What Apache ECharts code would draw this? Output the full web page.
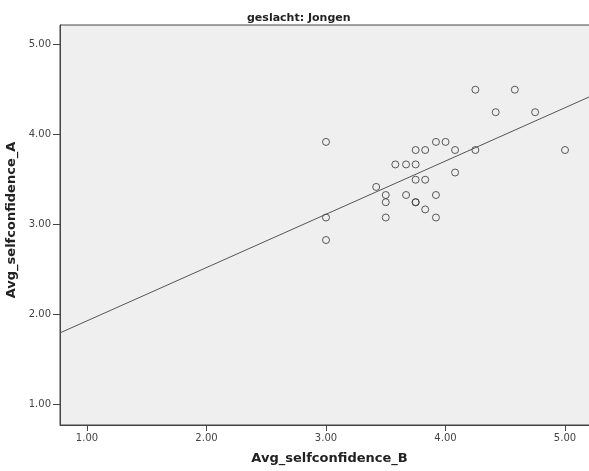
<!DOCTYPE html>
<html>
<head>
<meta charset="utf-8">
<script src="https://cdn.jsdelivr.net/npm/echarts@6/dist/echarts.min.js"></script>
<style>
html,body{margin:0;padding:0;background:#fff;}
#chart{width:589px;height:471px;}
</style>
</head>
<body>
<div id="chart"></div>
<script>
var chartTitle = 'geslacht: Jongen';
var xName = 'Avg_selfconfidence_B';
var yName = 'Avg_selfconfidence_A';
var xB = [4.25,4.58,4.42,4.75,3.00,3.92,4.00,3.75,3.83,4.08,4.25,5.00,3.58,3.67,3.75,3.75,3.83,4.08,3.42,3.50,3.67,3.92,3.50,3.75,3.75,3.83,3.00,3.50,3.92,3.00];
var yA = [4.50,4.50,4.25,4.25,3.92,3.92,3.92,3.83,3.83,3.83,3.83,3.83,3.67,3.67,3.67,3.50,3.50,3.58,3.42,3.33,3.33,3.33,3.25,3.25,3.25,3.17,3.08,3.08,3.08,2.83];
var xTicks = [1,2,3,4,5];
var yTicks = [1,2,3,4,5];
var fitIntercept = 1.34;
var fitSlope = 0.592;

var xMin = 0.774, xMax = 5.251;
var yMin = 0.775, yMax = 5.219;

var points = xB.map(function(x, i){ return [x, yA[i]]; });
var fitLine = [[xMin, fitIntercept + fitSlope * xMin], [xMax, fitIntercept + fitSlope * xMax]];

var chart = echarts.init(document.getElementById('chart'), null, {renderer:'canvas'});
var fontFam = 'DejaVu Sans';
chart.setOption({
  animation: false,
  backgroundColor: '#ffffff',
  title: {
    text: chartTitle,
    left: 242, top: 8,
    textStyle: {fontFamily: fontFam, fontSize: 11, fontWeight: 'bold', color: '#222'}
  },
  grid: {
    left: 60, top: 25, width: 535, height: 400,
    outerBoundsMode: 'none', containLabel: false,
    show: true, backgroundColor: '#efefef', borderColor: '#444', borderWidth: 1
  },
  xAxis: {
    type: 'value', min: xMin, max: xMax,
    name: xName, nameLocation: 'middle', nameGap: 27,
    nameTextStyle: {fontFamily: fontFam, fontSize: 13, fontWeight: 'bold', color: '#222', padding:[0,0,0,4]},
    axisLine: {show: true, onZero: false, lineStyle: {color: '#444', width: 1}},
    axisTick: {show: true, length: 6, customValues: xTicks, lineStyle: {color: '#444'}},
    axisLabel: {customValues: xTicks, margin: 8, fontFamily: fontFam, fontSize: 10, color: '#444',
      formatter: function(v){ return v.toFixed(2); }},
    splitLine: {show: false}
  },
  yAxis: {
    type: 'value', min: yMin, max: yMax,
    name: yName, nameLocation: 'middle', nameGap: 33,
    nameTextStyle: {fontFamily: fontFam, fontSize: 13, fontWeight: 'bold', color: '#222', padding:[0,0,6,10]},
    axisLine: {show: true, onZero: false, lineStyle: {color: '#444', width: 1}},
    axisTick: {show: true, length: 7, customValues: yTicks, lineStyle: {color: '#444'}},
    axisLabel: {customValues: yTicks, margin: 9, fontFamily: fontFam, fontSize: 10, color: '#444',
      formatter: function(v){ return v.toFixed(2); }},
    splitLine: {show: false}
  },
  series: [
    {
      type: 'line', data: fitLine, symbol: 'none', silent: true,
      lineStyle: {color: '#555', width: 1}, clip: true
    },
    {
      type: 'scatter', data: points, symbol: 'circle', symbolSize: 7,
      itemStyle: {color: 'rgba(0,0,0,0)', borderColor: '#333', borderWidth: 1}
    }
  ]
});
</script>
</body>
</html>
